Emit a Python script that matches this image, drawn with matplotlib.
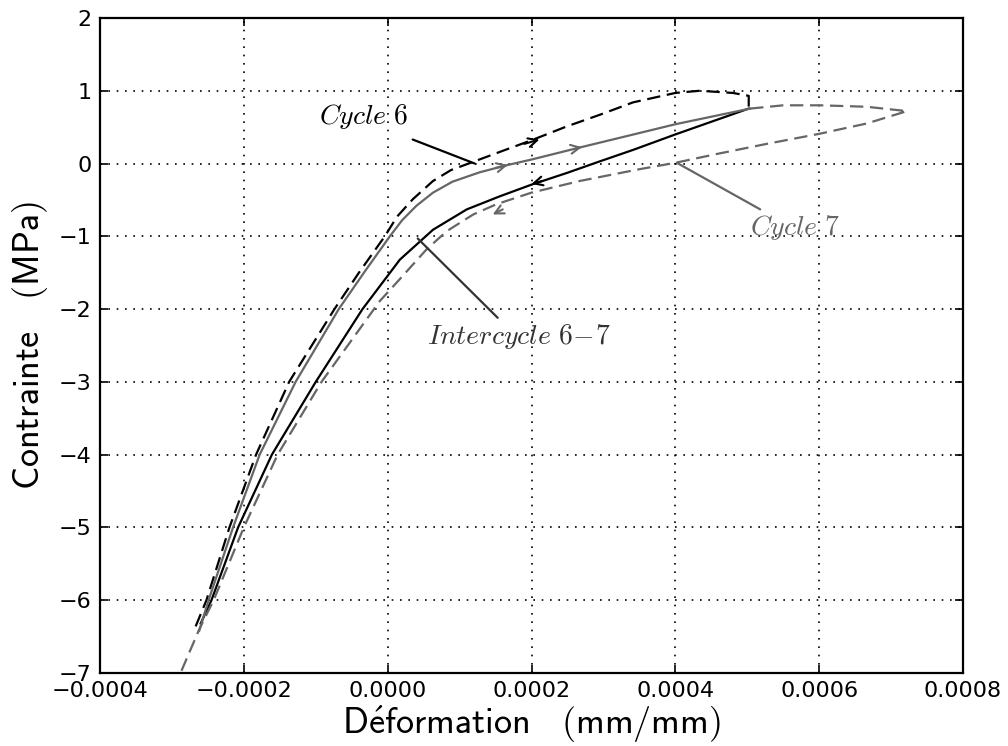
import matplotlib
matplotlib.use("Agg")
import matplotlib.pyplot as plt

plt.rcParams['mathtext.fontset'] = 'cm'

# cycle 6, loading (black dashed)
c6_x = [-0.000267, -0.000252, -0.000220, -0.000183, -0.000137, -0.000074, -0.000040,
        -0.000004, 0.000013, 0.000035, 0.000063, 0.000088, 0.000118, 0.000156, 0.000200,
        0.000249, 0.000295, 0.000341, 0.000400, 0.000434, 0.000480, 0.000502, 0.000502]
c6_y = [-6.36, -6.0, -5.0, -4.0, -3.0, -2.0, -1.5,
        -1.0, -0.73, -0.49, -0.24, -0.09, 0.02, 0.16, 0.32,
        0.51, 0.67, 0.84, 0.97, 1.0, 0.97, 0.93, 0.78]

# intercycle 6-7 (black solid)
ic_x = [0.000502, 0.000400, 0.000342, 0.000295, 0.000249, 0.000200, 0.000156, 0.000110,
        0.000063, 0.000017, -0.000035, -0.000100, -0.000161, -0.000208,
        -0.000245, -0.000260]
ic_y = [0.755, 0.40, 0.19, 0.03, -0.13, -0.29, -0.45, -0.63,
        -0.91, -1.32, -2.0, -3.0, -4.0, -5.0,
        -6.0, -6.32]

# cycle 7, loading (gray solid)
g7_x = [-0.000262, -0.000249, -0.000215, -0.000178, -0.000128, -0.000068, -0.000033,
        -0.000010, 0.000003, 0.000020, 0.000040, 0.000063, 0.000090, 0.000128, 0.000167,
        0.000200, 0.000267, 0.000342, 0.000400, 0.000504]
g7_y = [-6.42, -6.0, -5.0, -4.0, -3.0, -2.0, -1.5,
        -1.18, -1.0, -0.78, -0.58, -0.40, -0.25, -0.12, -0.02,
        0.055, 0.22, 0.40, 0.54, 0.755]

# cycle 7, upper branch + unloading (gray dashed)
d7_x = [0.000504, 0.000550, 0.000601, 0.000666, 0.000722, 0.000666, 0.000601, 0.000527,
        0.000457, 0.000400, 0.000349, 0.000267, 0.000200, 0.000151, 0.000119, 0.000082,
        0.000054, 0.0000167, -0.000011, -0.000092, -0.000153, -0.000200, -0.000242,
        -0.000262, -0.000288, -0.000295]
d7_y = [0.755, 0.80, 0.80, 0.78, 0.72, 0.55, 0.41, 0.27,
        0.13, 0.01, -0.08, -0.24, -0.40, -0.56, -0.70, -0.93,
        -1.18, -1.59, -1.89, -3.0, -4.0, -5.0, -6.0,
        -6.4, -7.0, -7.15]

black = 'k'
gray = '0.4'
dark = '0.2'

fig = plt.figure(figsize=(10.08, 7.46), dpi=100)
ax = fig.add_axes([0.0992, 0.0979, 0.8562, 0.878])

ax.plot(c6_x, c6_y, color=black, lw=1.6, linestyle=(0, (6, 3)))
ax.plot(ic_x, ic_y, color=black, lw=1.6)
ax.plot(g7_x, g7_y, color=gray, lw=1.6)
ax.plot(d7_x, d7_y, color=gray, lw=1.6, linestyle=(0, (6, 3)))

# direction arrows on the curves (tip, tail)
arrows = [
    ((0.000211, 0.33), (0.000190, 0.27), black),
    ((0.000167, -0.02), (0.000150, -0.06), gray),
    ((0.000200, -0.28), (0.000215, -0.24), black),
    ((0.000146, -0.70), (0.000160, -0.63), gray),
    ((0.000270, 0.225), (0.000262, 0.21), gray),
]
for tip, tail, col in arrows:
    ax.annotate('', xy=tip, xytext=tail,
                arrowprops=dict(arrowstyle='->', color=col, lw=1.5,
                                shrinkA=0, shrinkB=0, mutation_scale=16))

# labels with leader lines
labels = [
    (r'$Cycle\ 6$', (-0.0000334, 0.646), (0.0000348, 0.33), (0.000121, 0.0), black),
    (r'$Cycle\ 7$', (0.000567, -0.88), (0.000518, -0.63), (0.000402, 0.01), gray),
    (r'$Intercycle\ 6\!-\!7$', (0.000182, -2.38), (0.000153, -2.12), (0.0000418, -1.03), dark),
]
for txt, pos, start, end, col in labels:
    ax.text(pos[0], pos[1], txt, color=col, fontsize=20, ha='center', va='center')
    ax.annotate('', xy=end, xytext=start,
                arrowprops=dict(arrowstyle='-', color=col, lw=1.6,
                                shrinkA=0, shrinkB=0))

ax.set_xlim(-0.0004, 0.0008)
ax.set_ylim(-7, 2)
ax.set_xticks([-0.0004, -0.0002, 0.0, 0.0002, 0.0004, 0.0006, 0.0008])
ax.set_xticklabels(['\u22120.0004', '\u22120.0002', '0.0000', '0.0002', '0.0004', '0.0006', '0.0008'])
ax.set_yticks(range(-7, 3))
ax.set_yticklabels([('\u2212%d' % -v) if v < 0 else '%d' % v for v in range(-7, 3)])

ax.grid(True, color='k', linestyle=(0, (1, 4)), lw=1.2)
ax.tick_params(direction='in', length=6, width=1.2, labelsize=16,
               top=True, right=True, pad=6)
for s in ax.spines.values():
    s.set_linewidth(1.6)

ax.set_xlabel(r'$\mathsf{D\acute{e}formation}\quad\mathsf{(mm/mm)}$', fontsize=26, labelpad=2)
ax.set_ylabel(r'$\mathsf{Contrainte}\quad\mathsf{(MPa)}$', fontsize=26, labelpad=6)

fig.savefig('out.png', dpi=100)
